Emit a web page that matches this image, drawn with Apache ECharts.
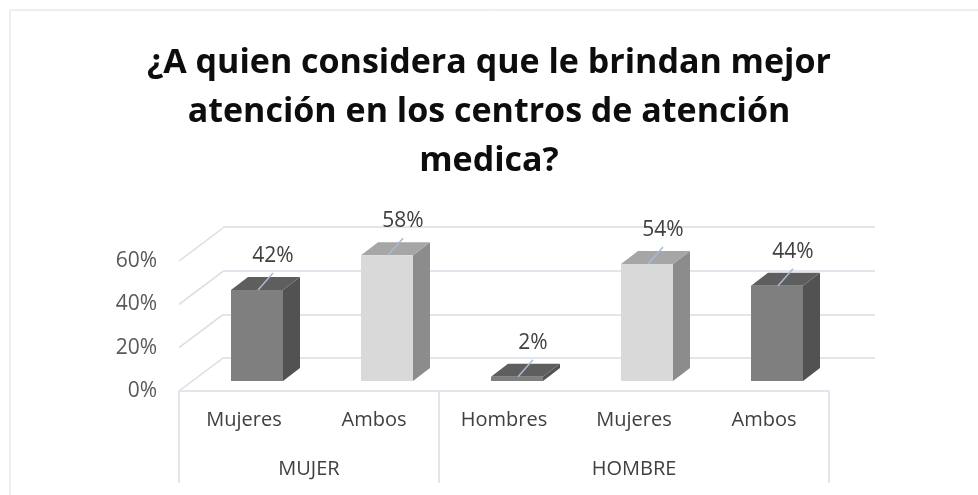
<!DOCTYPE html>
<html>
<head>
<meta charset="utf-8">
<title>Atención en centros de atención medica</title>
<script src="https://cdn.jsdelivr.net/npm/echarts@6/dist/echarts.min.js"></script>
<style>
    html, body { margin: 0; padding: 0; background: #fff; }
    #main { width: 978px; height: 495px; }
</style>
</head>
<body>
<div id="main"></div>
<script>
// datos
var categorias = ['Mujeres', 'Ambos', 'Hombres', 'Mujeres', 'Ambos'];
var grupos = ['MUJER', 'HOMBRE'];
var tamGrupos = [2, 3];
var valores = [0.42, 0.58, 0.02, 0.54, 0.44];
var ticks = [0, 0.2, 0.4, 0.6];

var FONT = '"Open Sans", sans-serif';
var LINEA = '#d9dee6';
var PROF = [44, -33];      // profundidad de la pared lateral
var PROF_BAR = [17, -13];  // profundidad de cada barra
var colores = [
    { frente: '#7f7f7f', lado: '#525252', tapa: '#5e5e5e' },
    { frente: '#d9d9d9', lado: '#8c8c8c', tapa: '#a6a6a6' }
];

var myChart = echarts.init(document.getElementById('main'));

var option = {
    animation: false,
    backgroundColor: '#fff',
    title: {
        text: '¿A quien considera que le brindan mejor\natención en los centros de atención\nmedica?',
        left: 'center',
        top: 34,
        textStyle: {
            fontFamily: FONT, fontWeight: 'bold', fontSize: 34,
            lineHeight: 49, color: '#0d0d0d'
        }
    },
    graphic: [{
        type: 'rect', z: -1,
        shape: { x: 10, y: 10, width: 1000, height: 1000 },
        style: { fill: 'none', stroke: '#d9dee6', lineWidth: 1 }
    }],
    grid: [
        // pared del fondo
        { left: 223, right: 103, top: 227, bottom: 137 },
        // plano frontal (etiquetas)
        { left: 179, right: 149, top: 261, bottom: 104 },
        // plano de las barras
        { left: 192, right: 136, top: 251, bottom: 114 }
    ],
    xAxis: [
        { gridIndex: 0, type: 'category', data: categorias, show: false },
        {
            gridIndex: 1, type: 'category', data: categorias,
            axisLine: { show: false }, axisTick: { show: false },
            axisLabel: { margin: 19, fontFamily: FONT, fontSize: 20, color: '#404040' }
        },
        { gridIndex: 2, type: 'category', data: categorias, show: false }
    ],
    yAxis: [
        {
            gridIndex: 0, type: 'value', min: 0, max: 0.6, interval: 0.2,
            axisLine: { show: false }, axisTick: { show: false }, axisLabel: { show: false },
            splitLine: { lineStyle: { color: LINEA, width: 1.5 } }
        },
        {
            gridIndex: 1, type: 'value', min: 0, max: 0.6, interval: 0.2,
            axisLine: { show: false }, axisTick: { show: false }, splitLine: { show: false },
            axisLabel: {
                margin: 22, fontFamily: FONT, fontSize: 21, color: '#595959',
                formatter: function (v) { return Math.round(v * 100) + '%'; }
            }
        },
        { gridIndex: 2, type: 'value', min: 0, max: 0.6, show: false }
    ],
    series: [
        {
            // lineas diagonales de la pared lateral
            type: 'custom', xAxisIndex: 1, yAxisIndex: 1, silent: true,
            data: ticks.map(function (t) { return [0, t]; }),
            renderItem: function (params, api) {
                var cs = params.coordSys;
                var p = api.coord([0, api.value(1)]);
                return {
                    type: 'line',
                    shape: { x1: cs.x, y1: p[1], x2: cs.x + PROF[0], y2: p[1] + PROF[1] },
                    style: { stroke: LINEA, lineWidth: 1.5 }
                };
            }
        },
        {
            // caja de categorias y etiquetas de grupo
            type: 'custom', xAxisIndex: 1, yAxisIndex: 1, silent: true,
            data: [[0, 0]],
            renderItem: function (params, api) {
                var cs = params.coordSys;
                var bw = api.size([1, 0])[0];
                var y0 = api.coord([0, 0])[1];
                var hijos = [{
                    type: 'line',
                    shape: { x1: cs.x, y1: y0, x2: cs.x + cs.width, y2: y0 },
                    style: { stroke: LINEA, lineWidth: 1.5 }
                }];
                var acum = 0;
                var xs = [cs.x];
                for (var g = 0; g < grupos.length; g++) {
                    var ini = cs.x + acum * bw;
                    acum += tamGrupos[g];
                    var fin = cs.x + acum * bw;
                    xs.push(fin);
                    hijos.push({
                        type: 'text',
                        style: {
                            text: grupos[g], x: (ini + fin) / 2, y: y0 + 78,
                            align: 'center', verticalAlign: 'middle',
                            fontFamily: FONT, fontSize: 20, fill: '#404040'
                        }
                    });
                }
                xs.forEach(function (x) {
                    hijos.push({
                        type: 'line',
                        shape: { x1: x, y1: y0, x2: x, y2: y0 + 92 },
                        style: { stroke: LINEA, lineWidth: 1.5 }
                    });
                });
                return { type: 'group', children: hijos };
            }
        },
        {
            // barras 3D con etiquetas
            type: 'custom', xAxisIndex: 2, yAxisIndex: 2,
            data: valores.map(function (v, i) { return [i, v]; }),
            renderItem: function (params, api) {
                var i = api.value(0), v = api.value(1);
                var top = api.coord([i, v]);
                var base = api.coord([i, 0]);
                var w = api.size([1, 0])[0] * 0.4;
                var xl = top[0] - w / 2, xr = top[0] + w / 2;
                var dx = PROF_BAR[0], dy = PROF_BAR[1];
                var c = colores[i % 2];
                return {
                    type: 'group',
                    children: [
                        {
                            type: 'polygon',
                            shape: { points: [[xr, base[1]], [xr, top[1]], [xr + dx, top[1] + dy], [xr + dx, base[1] + dy]] },
                            style: { fill: c.lado }
                        },
                        {
                            type: 'polygon',
                            shape: { points: [[xl, top[1]], [xr, top[1]], [xr + dx, top[1] + dy], [xl + dx, top[1] + dy]] },
                            style: { fill: c.tapa }
                        },
                        {
                            type: 'rect',
                            shape: { x: xl, y: top[1], width: w, height: base[1] - top[1] },
                            style: { fill: c.frente }
                        },
                        {
                            type: 'line',
                            shape: { x1: top[0] + 1, y1: top[1], x2: top[0] + 16, y2: top[1] - 17 },
                            style: { stroke: '#a9bbd0', lineWidth: 1.5 }
                        },
                        {
                            type: 'text',
                            style: {
                                text: Math.round(v * 100) + '%', x: top[0] + 16, y: top[1] - 34,
                                align: 'center', verticalAlign: 'middle',
                                fontFamily: FONT, fontSize: 21, fill: '#404040'
                            }
                        }
                    ]
                };
            }
        }
    ]
};

myChart.setOption(option);
</script>
</body>
</html>
